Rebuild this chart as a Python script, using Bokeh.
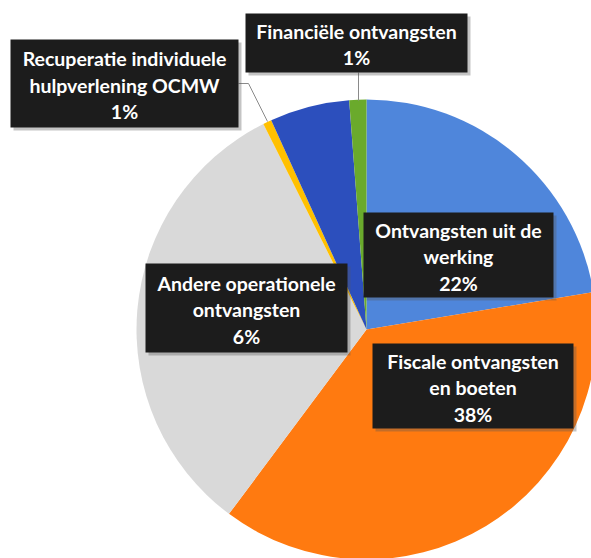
import math
from bokeh.plotting import figure
from bokeh.models import Range1d, ColumnDataSource
from bokeh.core.properties import value
from bokeh.embed import file_html
from bokeh.resources import INLINE

# ---- data (clockwise from 12 o'clock) ----
categories = [
    "Ontvangsten uit de werking",
    "Fiscale ontvangsten en boeten",
    "Werkingssubsidies",
    "Recuperatie individuele hulpverlening OCMW",
    "Andere operationele ontvangsten",
    "Financiële ontvangsten",
]
shares = [22.4, 37.8, 32.4, 0.6, 5.6, 1.2]
label_lines = [
    ["Ontvangsten uit de", "werking"],
    ["Fiscale ontvangsten", "en boeten"],
    None,
    ["Recuperatie individuele", "hulpverlening OCMW"],
    ["Andere operationele", "ontvangsten"],
    ["Financiële ontvangsten"],
]
colors = ["#4F86DB", "#FF7A10", "#D9D9D9", "#FFC000", "#2C4FBD", "#6AAA2C"]

# ---- layout (screen pixels of the page) ----
CX, CY, R = 366, 329, 230
OX, OY = 0, 0
W, H = 591, 558
def dx(px):
    return px - CX
def dy(py):
    return CY - py

# label boxes: x0, x1, y0, y1 (page pixels)
boxes = [
    (363, 553, 212, 297),
    (372, 573, 343, 428),
    None,
    (10, 238, 39, 127),
    (145, 347, 263, 352),
    (245, 467, 13, 72),
]
LINE_H = 26.5
FONT = "Lato"
FSIZE = "19.5px"

p = figure(width=W, height=H, output_backend="svg", toolbar_location=None,
           x_range=Range1d(dx(OX), dx(OX + W)), y_range=Range1d(dy(OY + H), dy(OY)),
           min_border=0, x_axis_location=None, y_axis_location=None,
           outline_line_color=None, background_fill_color="white",
           border_fill_color="white")
p.grid.visible = False

# wedges
total = sum(shares)
starts, ends = [], []
acc = 0.0
for s in shares:
    a0 = math.pi / 2 - 2 * math.pi * acc / total
    acc += s
    a1 = math.pi / 2 - 2 * math.pi * acc / total
    starts.append(a0)
    ends.append(a1)
src = ColumnDataSource(dict(start=starts, end=ends, color=colors, cat=categories))
p.wedge(x=0, y=0, radius=R, start_angle="start", end_angle="end",
        direction="clock", fill_color="color", line_color=None, source=src)

# leader lines (page pixels)
p.line([dx(358), dx(358)], [dy(72), dy(100)], line_color="#8a8a8a", line_width=1)
p.line([dx(238), dx(248), dx(267)], [dy(83), dy(83), dy(121)],
       line_color="#8a8a8a", line_width=1)

# label boxes with text
for i, b in enumerate(boxes):
    if b is None:
        continue
    x0, x1, y0, y1 = b
    # soft shadow
    p.quad(left=dx(x0) + 3, right=dx(x1) + 3, top=dy(y0) - 3, bottom=dy(y1) - 3,
           fill_color="#555555", fill_alpha=0.35, line_color=None)
    p.quad(left=dx(x0), right=dx(x1), top=dy(y0), bottom=dy(y1),
           fill_color="#1c1c1c", line_color=None)
    pct = f"{round(shares[i] / total * 100)}%"
    lines = label_lines[i] + [pct]
    n = len(lines)
    cy = (y0 + y1) / 2 + 1.5
    ys = [dy(cy + (k - (n - 1) / 2) * LINE_H) for k in range(n)]
    xs = [dx((x0 + x1) / 2)] * n
    p.text(x=xs, y=ys, text=lines, text_align="center", text_baseline="middle",
           text_color="white", text_font=value(FONT), text_font_size=FSIZE,
           text_font_style="bold")

open("out.html", "w").write(file_html(p, INLINE))
